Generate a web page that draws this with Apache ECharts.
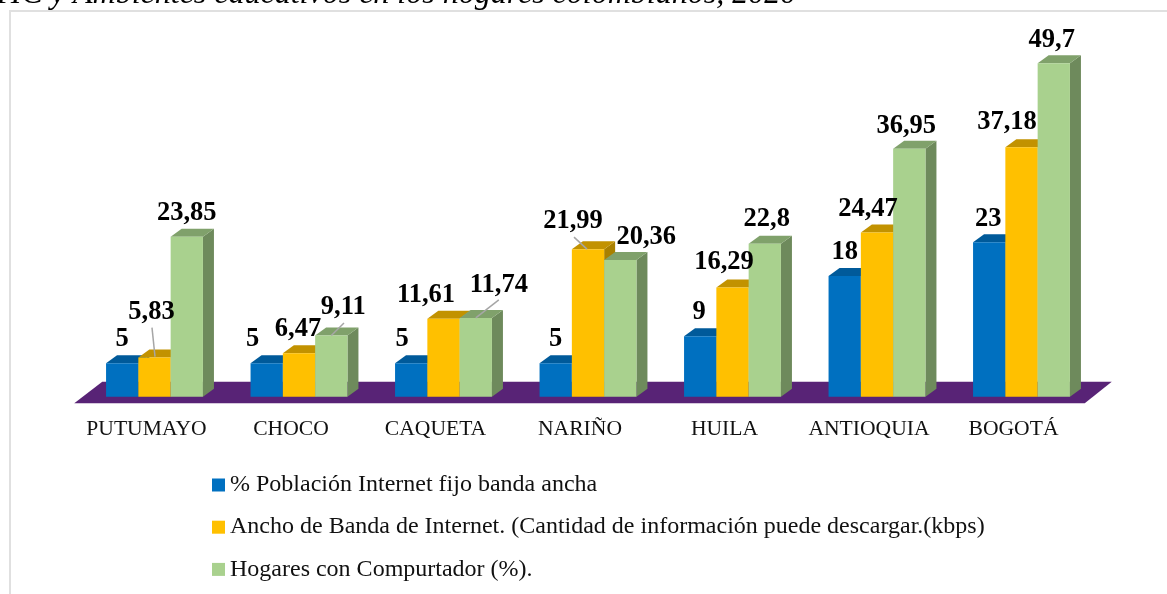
<!DOCTYPE html>
<html><head><meta charset="utf-8">
<style>html,body{margin:0;padding:0;background:#fff}#c{width:1167px;height:594px}</style>
<script src="https://cdn.jsdelivr.net/npm/echarts@6/dist/echarts.min.js"></script>
</head><body><div id="c"></div>
<script>
const categories = ['PUTUMAYO','CHOCO','CAQUETA','NARIÑO','HUILA','ANTIOQUIA','BOGOTÁ'];
const seriesNames = ['% Población Internet fijo banda ancha','Ancho de Banda de Internet. (Cantidad de información puede descargar.(kbps)','Hogares con Compurtador (%).'];
const internetFijo = [5,5,5,5,9,18,23];
const anchoBanda = [5.83,6.47,11.61,21.99,16.29,24.47,37.18];
const computador = [23.85,9.11,11.74,20.36,22.8,36.95,49.7];
const seriesValues = [internetFijo, anchoBanda, computador];
const labelTexts = [
  ['5','5','5','5','9','18','23'],
  ['5,83','6,47','11,61','21,99','16,29','24,47','37,18'],
  ['23,85','9,11','11,74','20,36','22,8','36,95','49,7']
];
const frontColors = ['#0070c0','#ffc000','#a9d18e'];
const topColors = ['#005a9a','#c29200','#80a16b'];
const sideColors = ['#00508a','#a98000','#6e8a5c'];
// label placement relative to the top centre of each bar
const labelShift = [
  [[0,-24],[-14,-24],[-9,-24],[0,-24],[-1,-24.5],[0,-24],[-1,-23]],
  [[-3,-45.6],[-1,-24],[-17.5,-24],[-15,-28],[-8.5,-25],[-9,-23.5],[-14.5,-25]],
  [[0,-24],[12,-28],[23,-33],[26,-23],[2,-25],[-3,-23],[-2,-23.5]]
];
const leaders = {'1-0':[-2.5,-30,0.5,-1],'2-1':[12.7,-12.6,0,0],'2-2':[23,-18,0,0],'1-3':[-14,-12,-1,0]};
const depthX = 11, depthY = 8, barRatio = 0.2235;
const serif = '"Liberation Serif","Times New Roman",serif';

function bar3d(si){
  return function(params, api){
    const i = api.value(0), v = api.value(1);
    const top = api.coord([i, v]), base = api.coord([i, 0]);
    const w = api.size([1,0])[0]*barRatio;
    const x0 = top[0] + (si-1)*w - w/2, x1 = x0 + w, yt = top[1], yb = base[1];
    const cx = x0 + w/2;
    const children = [
      {type:'polygon',shape:{points:[[x1,yt],[x1+depthX,yt-depthY],[x1+depthX,yb-depthY],[x1,yb]]},style:{fill:sideColors[si]}},
      {type:'polygon',shape:{points:[[x0,yt],[x0+depthX,yt-depthY],[x1+depthX,yt-depthY],[x1,yt]]},style:{fill:topColors[si]}},
      {type:'rect',shape:{x:x0,y:yt,width:w,height:yb-yt},style:{fill:frontColors[si]}}
    ];
    const ld = leaders[si+'-'+i];
    if(ld) children.push({type:'line',z2:5,shape:{x1:cx+ld[0],y1:yt+ld[1],x2:cx+ld[2],y2:yt+ld[3]},style:{stroke:'#a6a6a6',lineWidth:1.5}});
    const s = labelShift[si][i];
    children.push({type:'text',z2:10,x:cx+s[0],y:yt+s[1],style:{text:labelTexts[si][i],fill:'#000',font:'bold 26.5px '+serif,align:'center',verticalAlign:'middle'}});
    return {type:'group',children};
  };
}
function floor(params, api){
  const c = params.coordSys, b = c.y + c.height;
  return {type:'polygon',shape:{points:[[c.x-8,b+6.5],[c.x+c.width-9,b+6.5],[c.x+c.width+18,b-15],[c.x+20,b-15]]},style:{fill:'#582376'}};
}
const option = {
  animation:false,
  backgroundColor:'#fff',
  grid:{left:82.25,width:1011.5,top:61.2,height:335.5},
  xAxis:{type:'category',data:categories,axisLine:{show:false},axisTick:{show:false},
    axisLabel:{color:'#111',fontFamily:serif,fontSize:21.6,margin:22,interval:0,padding:[0,16,0,0]}},
  yAxis:{type:'value',min:0,max:50,show:false,splitLine:{show:false}},
  legend:{orient:'vertical',left:207,top:467,itemWidth:13,itemHeight:13,itemGap:16.2,icon:'rect',data:seriesNames,selectedMode:false,
    textStyle:{color:'#111',fontFamily:serif,fontSize:24,lineHeight:26}},
  graphic:[
    {type:'line',shape:{x1:9,y1:11,x2:1167,y2:11},style:{stroke:'#e0e0e0',lineWidth:2},silent:true},
    {type:'line',shape:{x1:10,y1:10,x2:10,y2:594},style:{stroke:'#e0e0e0',lineWidth:2},silent:true},
    {type:'text',x:-7,y:11,style:{text:'TIC y Ambientes educativos en los hogares colombianos, 2020',fill:'#000',font:'italic 32px '+serif,verticalAlign:'bottom'}}
  ],
  series:[
    {type:'custom',name:'floor',renderItem:floor,data:[[0,0]],encode:{x:0,y:1},silent:true},
    ...seriesNames.map((name,si)=>({type:'custom',name,renderItem:bar3d(si),itemStyle:{color:frontColors[si]},
      encode:{x:0,y:1},data:seriesValues[si].map((v,i)=>[i,v])}))
  ]
};
echarts.init(document.getElementById('c')).setOption(option);
</script></body></html>
